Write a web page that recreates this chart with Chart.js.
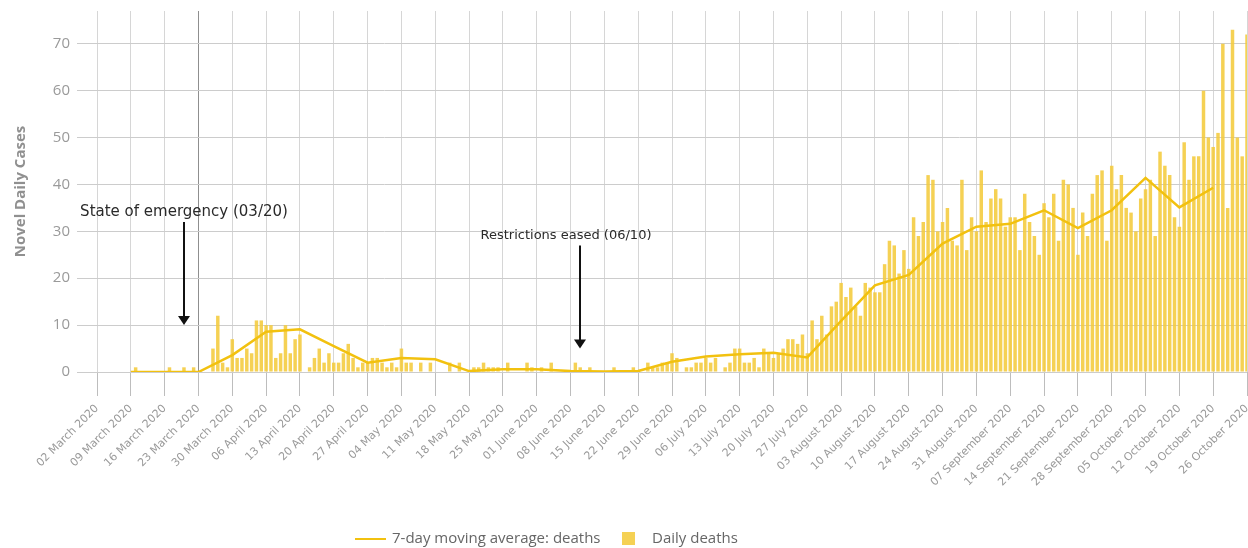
<!DOCTYPE html>
<html>
<head>
<meta charset="utf-8">
<script src="https://cdn.jsdelivr.net/npm/chart.js@4/dist/chart.umd.min.js"></script>
<style>
  body { margin: 0; background: #fff; }
  #wrap { width: 1248px; height: 548px; position: relative; }
</style>
</head>
<body>
<div id="wrap"><canvas id="deathChart"></canvas></div>
<script>
// daily deaths, one value per day from 02 March 2020 to 26 October 2020
const startDate = Date.UTC(2020, 2, 2);
const dailyDeaths = [
  0, 0, 0, 0, 0, 0, 0, 0, 1, 0, 0, 0, 0, 0, 0, 1, 0, 0, 1, 0,
  1, 0, 0, 0, 5, 12, 2, 1, 7, 3, 3, 5, 4, 11, 11, 10, 10, 3, 4, 10,
  4, 7, 8, 0, 1, 3, 5, 2, 4, 2, 2, 4, 6, 3, 1, 2, 2, 3, 3, 2,
  1, 2, 1, 5, 2, 2, 0, 2, 0, 2, 0, 0, 0, 2, 0, 2, 0, 0, 1, 1,
  2, 1, 1, 1, 0, 2, 0, 0, 0, 2, 1, 0, 1, 0, 2, 0, 0, 0, 0, 2,
  1, 0, 1, 0, 0, 0, 0, 1, 0, 0, 0, 1, 0, 0, 2, 1, 1, 2, 2, 4,
  3, 0, 1, 1, 2, 2, 3, 2, 3, 0, 1, 2, 5, 5, 2, 2, 3, 1, 5, 4,
  3, 4, 5, 7, 7, 6, 8, 4, 11, 7, 12, 8, 14, 15, 19, 16, 18, 14, 12, 19,
  18, 17, 17, 23, 28, 27, 21, 26, 22, 33, 29, 32, 42, 41, 30, 32, 35, 28, 27, 41,
  26, 33, 30, 43, 32, 37, 39, 37, 31, 33, 33, 26, 38, 32, 29, 25, 36, 33, 38, 28,
  41, 40, 35, 25, 34, 29, 38, 42, 43, 28, 44, 39, 42, 35, 34, 30, 37, 39, 41, 29,
  47, 44, 42, 33, 31, 49, 41, 46, 46, 60, 50, 48, 51, 70, 35, 73, 50, 46, 72
];

// weekly tick labels on the x axis
const weekTicks = [
  '02 March 2020', '09 March 2020', '16 March 2020', '23 March 2020', '30 March 2020',
  '06 April 2020', '13 April 2020', '20 April 2020', '27 April 2020',
  '04 May 2020', '11 May 2020', '18 May 2020', '25 May 2020',
  '01 June 2020', '08 June 2020', '15 June 2020', '22 June 2020', '29 June 2020',
  '06 July 2020', '13 July 2020', '20 July 2020', '27 July 2020',
  '03 August 2020', '10 August 2020', '17 August 2020', '24 August 2020', '31 August 2020',
  '07 September 2020', '14 September 2020', '21 September 2020', '28 September 2020',
  '05 October 2020', '12 October 2020', '19 October 2020', '26 October 2020'
];

// 7-day moving average, one point per week
const avgDates = weekTicks.slice(1, 34);
const avgValues = [
  0, 0, 0, 3.6, 8.6, 9.1, 5.5, 2.0, 3.0, 2.7, 0.2, 0.6, 0.6, 0.2, 0.1, 0.2, 2.2,
  3.3, 3.8, 4.1, 3.1, 10.9, 18.5, 20.7, 27.4, 31.0, 31.6, 34.5, 30.7, 34.5, 41.4, 35.1, 39.3
];

const notes = [
  { date: '20 March 2020', text: 'State of emergency (03/20)', from: 32, to: 10, dx: 0, size: 15 },
  { date: '10 June 2020', text: 'Restrictions eased (06/10)', from: 27, to: 5, dx: -14, size: 13 }
];

const monthNames = ['January', 'February', 'March', 'April', 'May', 'June', 'July',
  'August', 'September', 'October', 'November', 'December'];

let dayLabels = [];
for (let i = 0; i < dailyDeaths.length; i++) {
  const d = new Date(startDate + i * 86400000);
  dayLabels.push(String(d.getUTCDate()).padStart(2, '0') + ' ' + monthNames[d.getUTCMonth()] + ' ' + d.getUTCFullYear());
}

const lineColor = '#f2c10f';
const barColor = 'rgba(244, 203, 60, 0.88)';

// arrows with their text
const notesPlugin = {
  id: 'notes',
  afterDatasetsDraw(chart) {
    const c = chart.ctx;
    const xs = chart.scales.x, ys = chart.scales.y;
    c.save();
    notes.forEach(n => {
      const x = Math.round(xs.getPixelForValue(dayLabels.indexOf(n.date)));
      const y0 = ys.getPixelForValue(n.from);
      const y1 = ys.getPixelForValue(n.to);
      c.strokeStyle = '#111';
      c.fillStyle = '#111';
      c.lineWidth = 2;
      c.beginPath();
      c.moveTo(x, y0);
      c.lineTo(x, y1 - 8);
      c.stroke();
      c.beginPath();
      c.moveTo(x - 6, y1 - 9);
      c.lineTo(x + 6, y1 - 9);
      c.lineTo(x, y1);
      c.closePath();
      c.fill();
      c.font = n.size + 'px "DejaVu Sans"';
      c.fillStyle = '#2a2a2a';
      c.textAlign = 'center';
      c.textBaseline = 'middle';
      c.fillText(n.text, x + n.dx, y0 - 10);
    });
    c.restore();
  }
};

// legend at the bottom
const legendPlugin = {
  id: 'bottomLegend',
  afterDraw(chart) {
    const c = chart.ctx;
    const y = chart.height - 9;
    c.save();
    c.font = '15px "Open Sans"';
    c.textBaseline = 'middle';
    c.fillStyle = '#666';
    c.strokeStyle = lineColor;
    c.lineWidth = 2;
    c.beginPath();
    c.moveTo(355, y);
    c.lineTo(386, y);
    c.stroke();
    c.fillText(chart.data.datasets[0].label, 392, y);
    c.fillStyle = barColor;
    c.fillRect(622, y - 7, 13, 13);
    c.fillStyle = '#666';
    c.fillText(chart.data.datasets[1].label, 652, y);
    c.restore();
  }
};

const ctx = document.getElementById('deathChart').getContext('2d');

const deathChart = new Chart(ctx, {
  type: 'bar',
  data: {
    labels: dayLabels,
    datasets: [{
      type: 'line',
      label: '7-day moving average: deaths',
      data: avgDates.map((d, i) => ({ x: d, y: avgValues[i] })),
      borderColor: lineColor,
      backgroundColor: lineColor,
      borderWidth: 2.5,
      pointRadius: 0,
      tension: 0,
      fill: false
    }, {
      label: 'Daily deaths',
      data: dailyDeaths,
      backgroundColor: barColor,
      categoryPercentage: 1,
      barPercentage: 0.72
    }]
  },
  options: {
    responsive: true,
    maintainAspectRatio: false,
    animation: false,
    layout: { padding: { top: 11, right: 1, bottom: 36, left: 0 } },
    plugins: {
      legend: { display: false },
      tooltip: { enabled: false }
    },
    scales: {
      x: {
        offset: false,
        grid: {
          offset: false,
          color: c => (c.tick && c.tick.label === '23 March 2020') ? '#8f8f8f' : '#d6d6d6',
          tickColor: '#bdbdbd',
          tickLength: 24
        },
        border: { display: false },
        ticks: {
          autoSkip: false,
          minRotation: 45,
          maxRotation: 45,
          padding: 6,
          color: '#9a9a9a',
          font: { family: 'DejaVu Sans', size: 11 },
          callback: function (val) {
            const lab = this.getLabelForValue(val);
            return weekTicks.includes(lab) ? lab : null;
          }
        },
        afterFit: s => { s.height = 140; s.paddingRight = 0; s.paddingLeft = 0; }
      },
      y: {
        min: 0,
        max: 77,
        grid: { color: '#cccccc', tickColor: '#cccccc', tickLength: 20 },
        border: { display: false },
        ticks: {
          stepSize: 10,
          padding: 7,
          color: '#9a9a9a',
          font: { family: 'Open Sans', size: 15 },
          callback: v => (v % 10 === 0 ? v : null)
        },
        title: {
          display: true,
          text: 'Novel Daily Cases',
          color: '#909090',
          font: { family: 'Open Sans', size: 15, weight: 'bold' },
          padding: { top: 12, bottom: 0 }
        },
        afterFit: s => { s.width = 97; s.paddingTop = 0; s.paddingBottom = 0; }
      }
    }
  },
  plugins: [notesPlugin, legendPlugin]
});
</script>
</body>
</html>
